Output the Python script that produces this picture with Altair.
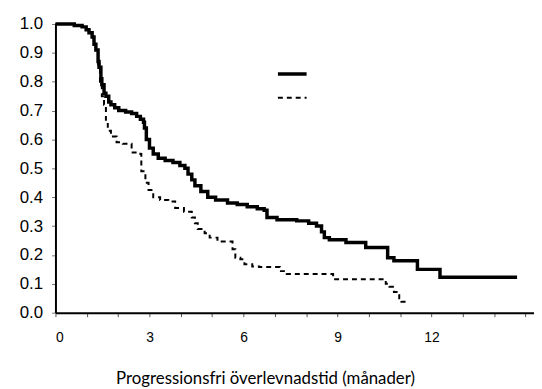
import altair as alt
import pandas as pd

# Kaplan-Meier style curves (time in months, survival fraction)
solid_t = [0, 0.6, 0.85, 0.98, 1.07, 1.17, 1.23, 1.29, 1.36, 1.39, 1.45, 1.48, 1.55, 1.61, 1.70,
           1.77, 1.89, 2.02, 2.24, 2.43, 2.59, 2.71, 2.81, 2.84, 2.90, 3.0, 3.12, 3.28, 3.5, 3.75,
           3.97, 4.13, 4.23, 4.35, 4.45, 4.64, 4.86, 5.11, 5.49, 5.8, 6.12, 6.44, 6.66, 6.75, 7.07,
           7.7, 8.08, 8.33, 8.49, 8.58, 8.74, 9.27, 9.9, 10.6, 10.8, 11.55, 12.27, 14.73]
solid_v = [1.0, 0.995, 0.99, 0.98, 0.97, 0.955, 0.93, 0.91, 0.87, 0.85, 0.81, 0.79, 0.76, 0.75, 0.73,
           0.72, 0.71, 0.70, 0.695, 0.69, 0.68, 0.67, 0.66, 0.64, 0.60, 0.57, 0.55, 0.535, 0.527, 0.52,
           0.51, 0.50, 0.48, 0.46, 0.44, 0.42, 0.40, 0.39, 0.38, 0.375, 0.367, 0.36, 0.355, 0.33, 0.322,
           0.318, 0.31, 0.30, 0.28, 0.26, 0.253, 0.243, 0.226, 0.19, 0.18, 0.15, 0.123, 0.123]

dashed_t = [0, 0.6, 0.85, 0.98, 1.07, 1.17, 1.23, 1.29, 1.36, 1.42, 1.48, 1.55, 1.61, 1.67, 1.77,
            1.95, 2.15, 2.43, 2.71, 2.74, 2.87, 2.97, 3.12, 3.34, 3.6, 3.82, 4.1, 4.35, 4.45, 4.54,
            4.76, 4.92, 5.17, 5.65, 5.74, 5.9, 6.03, 6.28, 6.5, 7.16, 7.38, 8.86, 10.54, 10.66, 10.8,
            10.97, 11.04, 11.26]
dashed_v = [1.0, 0.995, 0.99, 0.98, 0.97, 0.955, 0.93, 0.90, 0.86, 0.80, 0.75, 0.72, 0.66, 0.63, 0.61,
            0.59, 0.585, 0.555, 0.55, 0.49, 0.45, 0.425, 0.40, 0.39, 0.385, 0.363, 0.35, 0.33, 0.31, 0.29,
            0.275, 0.26, 0.247, 0.22, 0.19, 0.185, 0.168, 0.16, 0.158, 0.144, 0.134, 0.116, 0.10, 0.09, 0.072,
            0.05, 0.038, 0.038]

series_names = ["Grupp A", "Grupp B"]

df = pd.concat([
    pd.DataFrame({"t": solid_t, "v": solid_v, "grupp": series_names[0]}),
    pd.DataFrame({"t": dashed_t, "v": dashed_v, "grupp": series_names[1]}),
])

x_ticks = list(range(0, 16))
y_ticks = [round(i * 0.1, 1) for i in range(11)]

chart = alt.Chart(df).mark_line(interpolate="step-after", color="black").encode(
    x=alt.X("t:Q",
            scale=alt.Scale(domain=[0, 15.27], nice=False, zero=False),
            axis=alt.Axis(values=x_ticks,
                          labelExpr="(datum.value % 3 == 0 && datum.value <= 12) ? datum.label : ''",
                          title="Progressionsfri överlevnadstid (månader)",
                          titleFont="Lato", titleFontSize=17, titleFontWeight="normal",
                          titleColor="black",
                          titleX=212, titleY=72, titleBaseline="alphabetic", titleAlign="center",
                          labelFont="Liberation Sans", labelFontSize=14, labelColor="black",
                          labelPadding=14, tickSize=4, tickColor="#555",
                          domainColor="black", domainWidth=2, grid=False)),
    y=alt.Y("v:Q",
            scale=alt.Scale(domain=[0, 1.0], nice=False),
            axis=alt.Axis(values=y_ticks, format=".1f", title=None,
                          labelFont="Liberation Sans", labelFontSize=17, labelColor="black",
                          labelPadding=9, tickSize=4, tickColor="#777",
                          domainColor="black", domainWidth=2, grid=False)),
    strokeDash=alt.StrokeDash("grupp:N",
                              scale=alt.Scale(domain=series_names, range=[[1, 0], [5, 4]]),
                              legend=alt.Legend(title=None, orient="none", legendX=223, legendY=34,
                                                labelExpr="''", symbolType="stroke",
                                                symbolSize=841, symbolStrokeWidth=2,
                                                symbolStrokeColor="black", rowPadding=1,
                                                labelFontSize=1)),
    strokeWidth=alt.StrokeWidth("grupp:N",
                                scale=alt.Scale(domain=series_names, range=[3.5, 2]),
                                legend=None),
).properties(
    width=484, height=292,
    autosize=alt.AutoSizeParams(type="none"),
    padding={"left": 48, "top": 14, "right": 0, "bottom": 75},
).configure_view(stroke=None)

chart.save("out.html", embed_options={"renderer": "svg", "actions": False})
